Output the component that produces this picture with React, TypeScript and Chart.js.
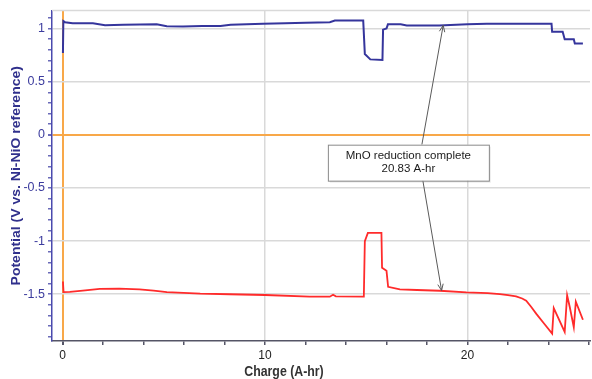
import { useEffect, useRef } from 'react';
import { Chart, registerables } from 'chart.js';

Chart.register(...registerables);

// Upper trace (blue)
const blueCharge = [0.02, 0.04, 0.12, 0.5, 1.5, 2.1, 3.0, 4.65, 5.15, 5.95, 6.9, 7.8, 8.3, 9.9, 11.0, 12.0, 13.2, 13.45, 14.85, 14.93, 15.2, 15.8, 15.83, 16.0, 16.07, 16.7, 17.0, 18.6, 20.0, 20.95, 24.15, 24.18, 24.7, 24.8, 25.25, 25.3, 25.7];
const bluePotential = [0.77, 1.07, 1.06, 1.05, 1.05, 1.032, 1.037, 1.04, 1.022, 1.02, 1.025, 1.025, 1.035, 1.045, 1.05, 1.055, 1.06, 1.075, 1.075, 0.76, 0.71, 0.705, 0.99, 1.0, 1.04, 1.04, 1.028, 1.03, 1.04, 1.045, 1.045, 0.97, 0.97, 0.9, 0.9, 0.86, 0.86];

// Lower trace (red)
const redCharge = [0.02, 0.05, 0.36, 1.0, 1.84, 2.8, 3.8, 4.5, 5.15, 6.8, 8.26, 10.0, 12.2, 13.2, 13.36, 13.5, 14.88, 14.93, 15.08, 15.75, 15.78, 16.0, 16.08, 16.66, 17.5, 18.63, 19.95, 21.0, 21.6, 22.0, 22.4, 22.7, 22.9, 23.15, 23.4, 23.8, 24.18, 24.26, 24.8, 24.92, 25.05, 25.25, 25.35, 25.7];
const redPotential = [-1.38, -1.48, -1.477, -1.465, -1.45, -1.447, -1.455, -1.465, -1.48, -1.495, -1.5, -1.507, -1.523, -1.523, -1.505, -1.52, -1.523, -1.0, -0.922, -0.922, -1.25, -1.28, -1.43, -1.455, -1.46, -1.467, -1.483, -1.49, -1.498, -1.508, -1.52, -1.54, -1.56, -1.62, -1.685, -1.78, -1.87, -1.63, -1.855, -1.51, -1.62, -1.81, -1.57, -1.74];

const xRange = [-0.52, 26.05];
const yRange = [-1.94, 1.17];
const xMajorTicks = [0, 10, 20];
const yMajorTicks = [1, 0.5, 0, -0.5, -1, -1.5];
const xTitle = 'Charge (A-hr)';
const yTitle = 'Potential (V vs. Ni-NiO reference)';
const noteLines = ['MnO reduction complete', '20.83 A-hr'];
const noteCenter = [17.08, -0.262];
const arrowTargets = [
  [18.8, 1.03],
  [18.72, -1.465],
];

const isMajor = (v: number, list: number[]) => list.some((m) => Math.abs(m - v) < 1e-6);

export default function App() {
  const ref = useRef<HTMLCanvasElement | null>(null);

  useEffect(() => {
    if (!ref.current) return;
    const orange = '#f8a849';
    const gridGray = '#d9d9d9';

    const overlay = {
      id: 'overlay',
      afterDraw(chart: any) {
        const ctx = chart.ctx as CanvasRenderingContext2D;
        const { chartArea } = chart;
        const xs = chart.scales.x;
        const ys = chart.scales.y;
        ctx.save();
        // top frame line
        ctx.strokeStyle = gridGray;
        ctx.lineWidth = 1.5;
        ctx.beginPath();
        ctx.moveTo(chartArea.left, chartArea.top);
        ctx.lineTo(chartArea.right, chartArea.top);
        ctx.stroke();

        // axis titles
        ctx.fillStyle = '#333333';
        ctx.font = 'bold 14px "Liberation Sans", Arial, sans-serif';
        ctx.textAlign = 'center';
        ctx.textBaseline = 'middle';
        ctx.save();
        ctx.translate(284, 372);
        ctx.scale(0.88, 1);
        ctx.fillText(xTitle, 0, 0);
        ctx.restore();

        ctx.save();
        ctx.fillStyle = '#30308c';
        ctx.translate(17, (chartArea.top + chartArea.bottom) / 2);
        ctx.rotate(-Math.PI / 2);
        ctx.scale(1, 0.9);
        ctx.fillText(yTitle, 0, 0);
        ctx.restore();

        // annotation box
        const cx = xs.getPixelForValue(noteCenter[0]);
        const cy = ys.getPixelForValue(noteCenter[1]);
        const hw = 80.5;
        const hh = 18;
        const starts = [
          [cx + 13.5, cy - hh],
          [cx + 14.5, cy + hh],
        ];
        ctx.strokeStyle = '#5a5a5a';
        ctx.lineWidth = 1;
        arrowTargets.forEach((t, i) => {
          const tx = xs.getPixelForValue(t[0]);
          const ty = ys.getPixelForValue(t[1]);
          const [sx, sy] = starts[i];
          ctx.beginPath();
          ctx.moveTo(sx, sy);
          ctx.lineTo(tx, ty);
          ctx.stroke();
          const ang = Math.atan2(ty - sy, tx - sx);
          const L = 7;
          const spread = 0.4;
          ctx.beginPath();
          ctx.moveTo(tx - L * Math.cos(ang - spread), ty - L * Math.sin(ang - spread));
          ctx.lineTo(tx, ty);
          ctx.lineTo(tx - L * Math.cos(ang + spread), ty - L * Math.sin(ang + spread));
          ctx.stroke();
        });

        ctx.fillStyle = 'rgba(0,0,0,0.08)';
        ctx.fillRect(cx - hw + 2, cy - hh + 2, hw * 2, hh * 2);
        ctx.fillStyle = '#ffffff';
        ctx.fillRect(cx - hw, cy - hh, hw * 2, hh * 2);
        ctx.strokeStyle = '#8a8a8a';
        ctx.strokeRect(cx - hw + 0.5, cy - hh + 0.5, hw * 2, hh * 2);
        ctx.fillStyle = '#1a1a1a';
        ctx.font = '11.5px "Liberation Sans", Arial, sans-serif';
        ctx.fillText(noteLines[0], cx, cy - 6.5);
        ctx.fillText(noteLines[1], cx, cy + 6);
        ctx.restore();
      },
    };

    const chart = new Chart(ref.current, {
      type: 'scatter',
      data: {
        datasets: [
          {
            label: 'upper',
            data: blueCharge.map((x, i) => ({ x, y: bluePotential[i] })),
            showLine: true,
            borderColor: '#35359c',
            borderWidth: 2,
            pointRadius: 0,
            tension: 0,
          },
          {
            label: 'lower',
            data: redCharge.map((x, i) => ({ x, y: redPotential[i] })),
            showLine: true,
            borderColor: '#ff2b2b',
            borderWidth: 1.8,
            pointRadius: 0,
            tension: 0,
          },
        ],
      },
      options: {
        responsive: false,
        animation: false,
        layout: { padding: { top: 9, right: 2, left: 0, bottom: 0 } },
        plugins: { legend: { display: false }, tooltip: { enabled: false } },
        scales: {
          x: {
            type: 'linear',
            min: xRange[0],
            max: xRange[1],
            afterFit: (s: any) => {
              s.height = 38;
            },
            border: { color: '#555566', width: 1.5 },
            grid: {
              color: (c: any) =>
                Math.abs(c.tick?.value) < 1e-6 ? orange : isMajor(c.tick?.value, xMajorTicks) ? gridGray : 'rgba(0,0,0,0)',
              lineWidth: (c: any) => (Math.abs(c.tick?.value) < 1e-6 ? 2 : 1.5),
              tickColor: '#555566',
              tickLength: 4,
              drawTicks: true,
            },
            ticks: {
              stepSize: 2,
              includeBounds: false,
              autoSkip: false,
              maxRotation: 0,
              padding: 3,
              color: '#222222',
              font: { family: '"Liberation Sans", Arial, sans-serif', size: 12 },
              callback: (v: any) => (isMajor(Number(v), xMajorTicks) ? String(Math.round(Number(v))) : ''),
            },
          },
          y: {
            type: 'linear',
            min: yRange[0],
            max: yRange[1],
            afterFit: (s: any) => {
              s.width = 52;
            },
            border: { color: '#4a4aae', width: 1.5 },
            grid: {
              color: (c: any) =>
                Math.abs(c.tick?.value) < 1e-6 ? orange : isMajor(c.tick?.value, yMajorTicks) ? gridGray : 'rgba(0,0,0,0)',
              lineWidth: (c: any) => (Math.abs(c.tick?.value) < 1e-6 ? 2 : 1.5),
              tickColor: '#6a6ab8',
              tickLength: 4,
              drawTicks: true,
            },
            ticks: {
              stepSize: 0.1,
              includeBounds: false,
              autoSkip: false,
              padding: 3,
              color: '#3c3c9e',
              font: { family: '"Liberation Sans", Arial, sans-serif', size: 12.5 },
              callback: (v: any) => {
                const n = Number(v);
                if (!isMajor(n, yMajorTicks)) return '';
                return String(Math.round(n * 10) / 10);
              },
            },
          },
        },
      },
      plugins: [overlay],
    } as any);

    return () => chart.destroy();
  }, []);

  return (
    <div style={{ position: 'fixed', left: 0, top: 0, width: 592, height: 379, background: '#ffffff' }}>
      <canvas ref={ref} width={592} height={379} style={{ display: 'block', width: 592, height: 379 }} />
    </div>
  );
}
